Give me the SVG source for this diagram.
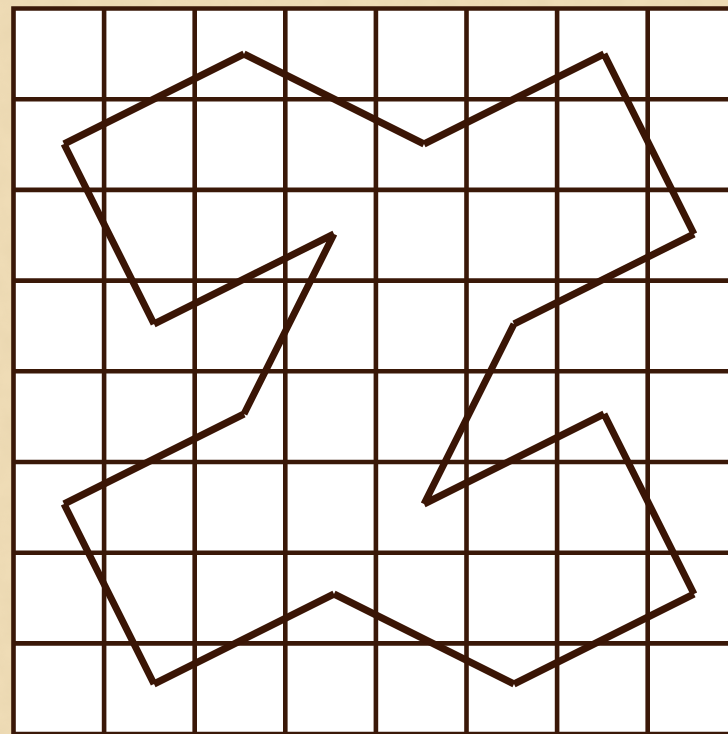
<svg xmlns="http://www.w3.org/2000/svg" width="728" height="734" viewBox="0 0 728 734">
  <defs>
    <filter id="paper" x="0" y="0" width="100%" height="100%">
      <feTurbulence type="fractalNoise" baseFrequency="0.04" numOctaves="4" seed="3" result="n"/>
      <feColorMatrix in="n" type="matrix" values="0 0 0 0 0.80  0 0 0 0 0.66  0 0 0 0 0.42  0 0 0 0.9 -0.25" result="c"/>
      <feComposite in="c" in2="SourceGraphic" operator="in"/>
    </filter>
    <style>
      .grid { stroke: #3a1808; stroke-width: 4.6; fill: none; }
      .shape { stroke: #3a1505; stroke-width: 7; fill: none; stroke-linecap: butt; }
    </style>
  </defs>
  <g id="background">
    <rect x="0" y="0" width="728" height="734" fill="#efdcb6"/>
    <rect x="0" y="0" width="728" height="734" fill="#fff" filter="url(#paper)"/>
    <rect x="13.5" y="8.5" width="720" height="730" fill="#ffffff"/>
  </g>
  <g id="grid" class="grid">
    <path d="M13.5 6.2V740 M104.1 6.2V740 M194.7 6.2V740 M285.3 6.2V740 M375.9 6.2V740 M466.5 6.2V740 M557.1 6.2V740 M647.7 6.2V740
             M11.2 8.5H730 M11.2 99.2H730 M11.2 189.9H730 M11.2 280.6H730 M11.2 371.3H730 M11.2 462H730 M11.2 552.7H730 M11.2 643.4H730 M11.2 734.1H730"/>
  </g>
  <g id="polygon" class="shape">
    <path d="M244 54L424 144 M424 144L604 54 M604 54L694 234 M694 234L514 324 M514 324L424 504 M424 504L604 414 M604 414L694 594 M694 594L514 684 M514 684L334 594 M334 594L154 684 M154 684L64 504 M64 504L244 414 M244 414L334 234 M334 234L154 324 M154 324L64 144 M64 144L244 54"/>
  </g>
</svg>
